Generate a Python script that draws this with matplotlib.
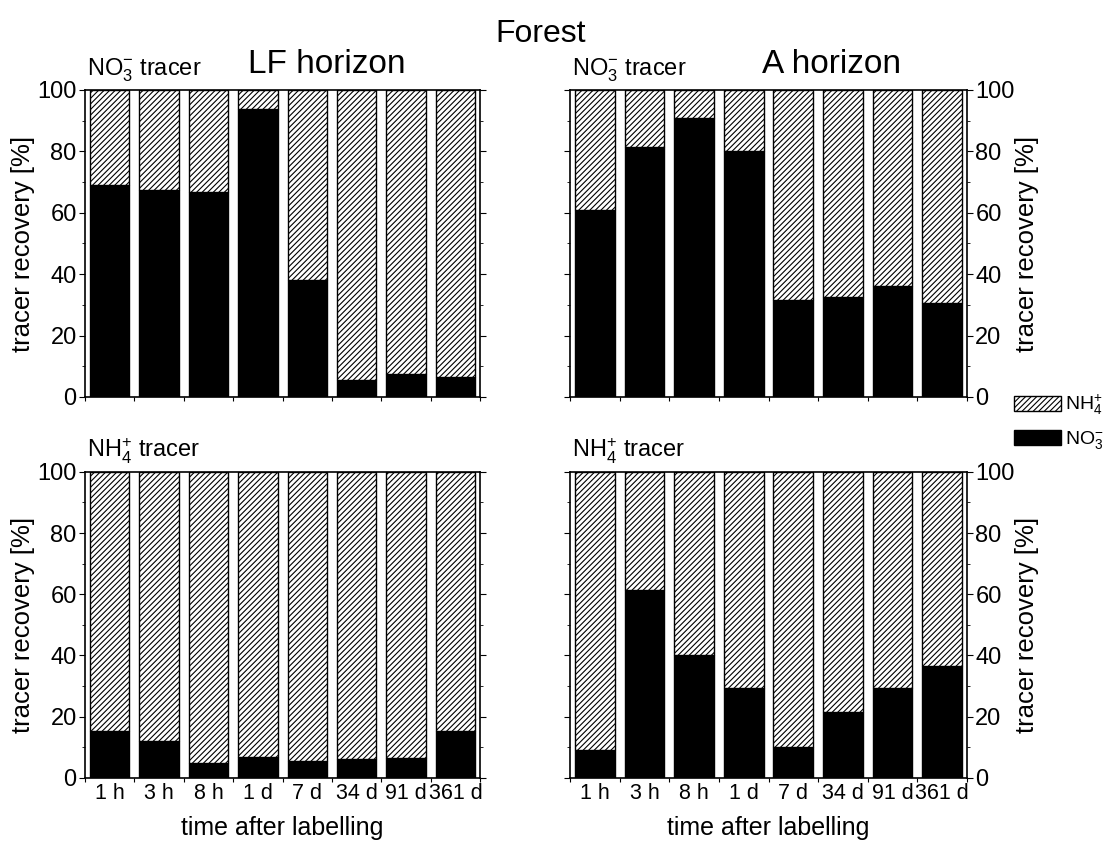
#!/usr/bin/env python3
"""
Forest tracer recovery: share of NO3- vs NH4+ after labelling,
LF and A horizon, NO3- and NH4+ tracer.
"""

import matplotlib
matplotlib.use("Agg")
import matplotlib.pyplot as plt
import numpy as np
from matplotlib.patches import Patch
from matplotlib.ticker import MultipleLocator, FixedLocator

plt.rcParams['font.family'] = ['Liberation Sans', 'DejaVu Sans']
plt.rcParams['mathtext.fontset'] = 'custom'
plt.rcParams['mathtext.rm'] = 'Liberation Sans'
plt.rcParams['mathtext.it'] = 'Liberation Sans'
plt.rcParams['hatch.linewidth'] = 0.8

times = ['1 h', '3 h', '8 h', '1 d', '7 d', '34 d', '91 d', '361 d']

# NO3- share of recovered tracer [%]; NH4+ is the remainder to 100
lf_no3_tracer = [69.1, 67.5, 66.9, 93.8, 38.0, 5.6, 7.6, 6.5]
a_no3_tracer = [60.9, 81.3, 90.9, 80.1, 31.5, 32.4, 36.1, 30.7]
lf_nh4_tracer = [15.4, 12.0, 4.9, 6.8, 5.4, 6.2, 6.5, 15.4]
a_nh4_tracer = [9.1, 61.4, 40.2, 29.3, 10.1, 21.6, 29.3, 36.6]

HATCH = '//////'


def draw_panel(ax, no3, right=False, bottom=False):
    x = np.arange(len(times))
    no3 = np.array(no3)
    nh4 = 100 - no3
    ax.bar(x, no3, width=0.8, color='black', edgecolor='black', linewidth=1)
    ax.bar(x, nh4, width=0.8, bottom=no3, color='white', edgecolor='black',
           linewidth=1, hatch=HATCH)
    ax.set_xlim(-0.5, len(times) - 0.5)
    ax.set_ylim(0, 100)

    # boundary ticks between bars, labels at bar centers
    ax.xaxis.set_major_locator(FixedLocator(np.arange(-0.5, len(times), 1.0)))
    ax.xaxis.set_minor_locator(FixedLocator(x))
    ax.tick_params(axis='x', which='major', direction='out', length=3,
                   labelbottom=False)
    if bottom:
        ax.set_xticks(x, minor=True)
        ax.set_xticklabels(times, minor=True, fontsize=15.5)
        ax.tick_params(axis='x', which='minor', length=0, pad=4)
        ax.set_xlabel('time after labelling', fontsize=18, labelpad=8)
    else:
        ax.tick_params(axis='x', which='minor', length=0, labelbottom=False)

    ax.yaxis.set_major_locator(MultipleLocator(20))
    ax.yaxis.set_minor_locator(MultipleLocator(10))
    ax.tick_params(axis='y', which='major', direction='out', length=4,
                   left=True, right=True, labelsize=17, pad=2)
    ax.tick_params(axis='y', which='minor', direction='out', length=2,
                   left=True, right=True)
    if right:
        ax.tick_params(axis='y', labelleft=False, labelright=True)
        ax.yaxis.set_label_position('right')
        ax.set_ylabel('tracer recovery [%]', fontsize=18.5, labelpad=0)
    else:
        ax.set_ylabel('tracer recovery [%]', fontsize=18.5, labelpad=2)
    for s in ax.spines.values():
        s.set_linewidth(1.2)


fig = plt.figure(figsize=(11.16, 8.41), dpi=100)

ax_tl = fig.add_axes([0.0762, 0.528, 0.354, 0.365])
ax_tr = fig.add_axes([0.5108, 0.528, 0.3557, 0.365])
ax_bl = fig.add_axes([0.0762, 0.075, 0.354, 0.364])
ax_br = fig.add_axes([0.5108, 0.075, 0.3557, 0.364])

draw_panel(ax_tl, lf_no3_tracer)
draw_panel(ax_tr, a_no3_tracer, right=True)
draw_panel(ax_bl, lf_nh4_tracer, bottom=True)
draw_panel(ax_br, a_nh4_tracer, right=True, bottom=True)

# panel texts
fig.text(0.484, 0.960, 'Forest', ha='center', va='center', fontsize=23)
fig.text(0.293, 0.923, 'LF horizon', ha='center', va='center', fontsize=24)
fig.text(0.7455, 0.923, 'A horizon', ha='center', va='center', fontsize=24)
for ax, lab in [(ax_tl, r'NO$_3^{-}$ tracer'), (ax_tr, r'NO$_3^{-}$ tracer'),
                (ax_bl, r'NH$_4^{+}$ tracer'), (ax_br, r'NH$_4^{+}$ tracer')]:
    ax.text(0.005, 1.02, lab, transform=ax.transAxes,
            ha='left', va='bottom', fontsize=17)

handles = [Patch(facecolor='white', edgecolor='black', hatch=HATCH, label=r'NH$_4^{+}$'),
           Patch(facecolor='black', edgecolor='black', label=r'NO$_3^{-}$')]
fig.legend(handles=handles, loc='center left', bbox_to_anchor=(0.909, 0.498),
           frameon=False, fontsize=14, handlelength=2.4, handleheight=0.8,
           handletextpad=0.2, labelspacing=0.6, borderpad=0, borderaxespad=0)

plt.savefig('out.png', dpi=100)
